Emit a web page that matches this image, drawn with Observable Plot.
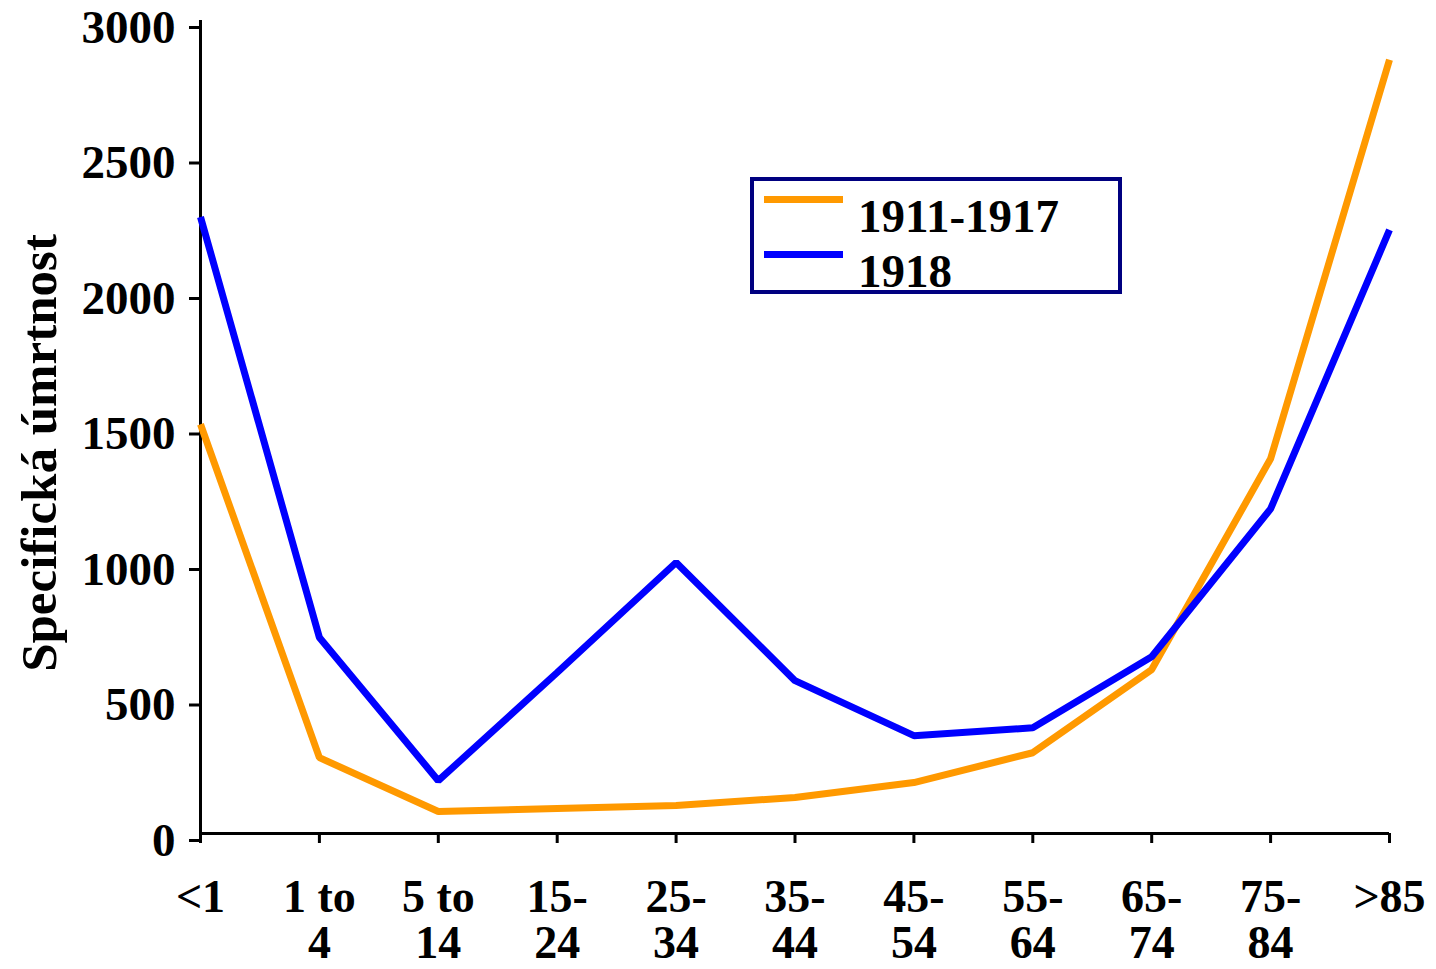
<!DOCTYPE html>
<html><head><meta charset="utf-8">
<script src="https://cdn.jsdelivr.net/npm/d3@7"></script>
<script src="https://cdn.jsdelivr.net/npm/@observablehq/plot@0.6"></script>
<style>
body{margin:0;background:#fff;}
#wrap{position:relative;width:1436px;height:969px;}
.legend{position:absolute;left:750px;top:177px;width:372px;height:117px;border:4px solid #000080;box-sizing:border-box;font-family:"Liberation Serif",serif;font-weight:bold;font-size:47px;line-height:1;background:#fff;}
.legend .sw{position:absolute;left:10px;width:79px;height:7px;}
.legend .lb{position:absolute;left:104px;white-space:nowrap;}
</style></head><body><div id="wrap"></div>
<script>
const ageGroups = ["<1","1 to 4","5 to 14","15-24","25-34","35-44","45-54","55-64","65-74","75-84",">85"];
const tickLabels = ["<1","1 to\n4","5 to\n14","15-\n24","25-\n34","35-\n44","45-\n54","55-\n64","65-\n74","75-\n84",">85"];
const rate1911_1917 = [1510,280,81,92,103,133,188,298,605,1383,2855];
const rate1918 = [2275,723,195,594,1000,564,361,390,652,1198,2227];
const seriesNames = ["1911-1917","1918"];
const seriesColors = ["#FF9900","#0000FF"];
const yTicks = [0,500,1000,1500,2000,2500,3000];
const yLabel = "Specifická úmrtnost";

const data = [];
ageGroups.forEach((a,i)=>{ data.push({age:a, value:rate1911_1917[i], series:seriesNames[0]}); });
ageGroups.forEach((a,i)=>{ data.push({age:a, value:rate1918[i], series:seriesNames[1]}); });

const chart = Plot.plot({
  width:1436, height:969,
  marginLeft:200, marginRight:47, marginTop:20, marginBottom:136,
  style:{fontFamily:"'Liberation Serif', serif", fontWeight:"bold", fontSize:"47px", color:"#000", background:"#fff"},
  x:{type:"point", domain:ageGroups, padding:0, round:false},
  y:{domain:[0,3000]},
  color:{domain:seriesNames, range:seriesColors},
  marks:[
    Plot.axisY({ticks:yTicks, tickSize:11, tickPadding:14, strokeWidth:3, label:null, dy:7, fontSize:47,
      tickFormat:(d)=>String(d)}),
    Plot.axisX({tickSize:10, tickPadding:36, strokeWidth:3, label:null, fontSize:46, lineHeight:1.0,
      tickFormat:(d)=>tickLabels[ageGroups.indexOf(d)]}),
    Plot.ruleX([ageGroups[0]], {strokeWidth:3}),
    Plot.ruleY([0], {strokeWidth:3}),
    Plot.line(data, {x:"age", y:"value", stroke:"series", z:"series", strokeWidth:7, strokeLinejoin:"miter", strokeLinecap:"butt"}),
    Plot.text([yLabel], {frameAnchor:"left", textAnchor:"middle", rotate:-90, dx:-161, dy:26, fontSize:51, fontWeight:"bold"})
  ]
});
const wrap = document.getElementById("wrap");
wrap.appendChild(chart);

const legend = document.createElement("div");
legend.className = "legend";
const swTops = [15, 70];
const lbTops = [12, 67];
seriesNames.forEach((name,i)=>{
  const sw = document.createElement("div");
  sw.className = "sw"; sw.style.top = swTops[i]+"px"; sw.style.background = seriesColors[i];
  const lb = document.createElement("div");
  lb.className = "lb"; lb.style.top = lbTops[i]+"px"; lb.textContent = name;
  legend.appendChild(sw); legend.appendChild(lb);
});
wrap.appendChild(legend);
</script>
</body></html>
